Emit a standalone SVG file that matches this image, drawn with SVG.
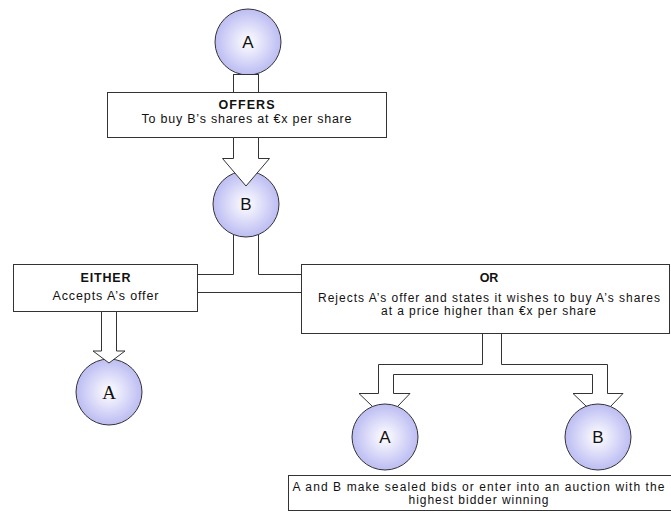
<svg xmlns="http://www.w3.org/2000/svg" width="671" height="513" viewBox="0 0 671 513">
<defs>
<radialGradient id="bub" cx="50%" cy="50%" r="50%">
<stop offset="0" stop-color="#ffffff"/>
<stop offset="1" stop-color="#bcbcf3"/>
</radialGradient>
<style>
.c{fill:url(#bub);stroke:#333;stroke-width:1}
.b{fill:#fff;stroke:#333;stroke-width:1}
.t{font-family:"Liberation Sans",Arial,sans-serif;font-size:12.5px;fill:#111;text-anchor:middle}
.sm{font-size:12px}
.h{font-weight:bold}
.l{font-family:"Liberation Sans",Arial,sans-serif;font-size:17px;fill:#111;text-anchor:middle}
.s{font-family:"Liberation Serif","Times New Roman",serif;font-size:19px;fill:#111;text-anchor:middle}
.k{fill:none;stroke:#333;stroke-width:1}
.a{fill:#fff;stroke:#333;stroke-width:1}
</style>
</defs>
<rect width="671" height="513" fill="#fff"/>
<g id="nodeA1">
<circle class="c" cx="248" cy="42" r="33"/>
<text class="l" x="248" y="48">A</text>
</g>
<g id="offers">
<rect class="b" x="107.5" y="92.5" width="279" height="45"/>
<text class="t h" x="246.5" y="109" textLength="56" lengthAdjust="spacing">OFFERS</text>
<text class="t" x="246.5" y="123" textLength="210" lengthAdjust="spacing">To buy B’s shares at €x per share</text>
</g>
<g id="nodeB1">
<circle class="c" cx="246" cy="204" r="33"/>
<text class="l" x="246" y="210">B</text>
</g>
<g id="either">
<rect class="b" x="13.5" y="264.5" width="184" height="47"/>
<text class="t h" x="105.5" y="281.5" textLength="50" lengthAdjust="spacing">EITHER</text>
<text class="t" x="105.5" y="300" textLength="106" lengthAdjust="spacing">Accepts A’s offer</text>
</g>
<g id="or">
<rect class="b" x="301.5" y="264.5" width="368" height="69"/>
<text class="t h" x="489" y="282">OR</text>
<text class="t sm" x="489" y="301.5" textLength="342" lengthAdjust="spacing">Rejects A’s offer and states it wishes to buy A’s shares</text>
<text class="t sm" x="488.5" y="315" textLength="215" lengthAdjust="spacing">at a price higher than €x per share</text>
</g>
<g id="nodeA2">
<circle class="c" cx="109" cy="392" r="33"/>
<text class="s" x="109" y="399">A</text>
</g>
<g id="nodeA3">
<circle class="c" cx="385" cy="437" r="33"/>
<text class="l" x="385" y="443">A</text>
</g>
<g id="nodeB3">
<circle class="c" cx="598" cy="437" r="33"/>
<text class="l" x="598" y="443">B</text>
</g>
<g id="auction">
<rect class="b" x="288.5" y="475.5" width="384" height="35"/>
<text class="t sm" x="478.5" y="491" textLength="372" lengthAdjust="spacing">A and B make sealed bids or enter into an auction with the</text>
<text class="t sm" x="478.5" y="503.5" textLength="140" lengthAdjust="spacing">highest bidder winning</text>
</g>
<g id="connectors">
<rect class="a" x="233.5" y="74.5" width="25" height="18"/>
<polygon class="a" points="233.5,137.5 233.5,158.5 222.5,158.5 246,186 269.5,158.5 258.5,158.5 258.5,137.5"/>
<path class="k" d="M233.5,234.5 V274.5 H197.5 M258.5,234.5 V274.5 H301.5 M197.5,292.5 H301.5"/>
<polygon class="a" points="101.5,311.5 101.5,351 93,351 109,363 125,351 116.5,351 116.5,311.5"/>
<path class="k" d="M372.5,406.5 L359,393.5 H378.5 V364.5 H482.5 V333.5 M501.5,333.5 V364.5 H607.5 V393.5 H623 L610.5,406.5 M586.5,406.5 L573,393.5 H592.5 V374.5 H393.5 V393.5 H410 L397.5,406.5"/>
</g>
</svg>
